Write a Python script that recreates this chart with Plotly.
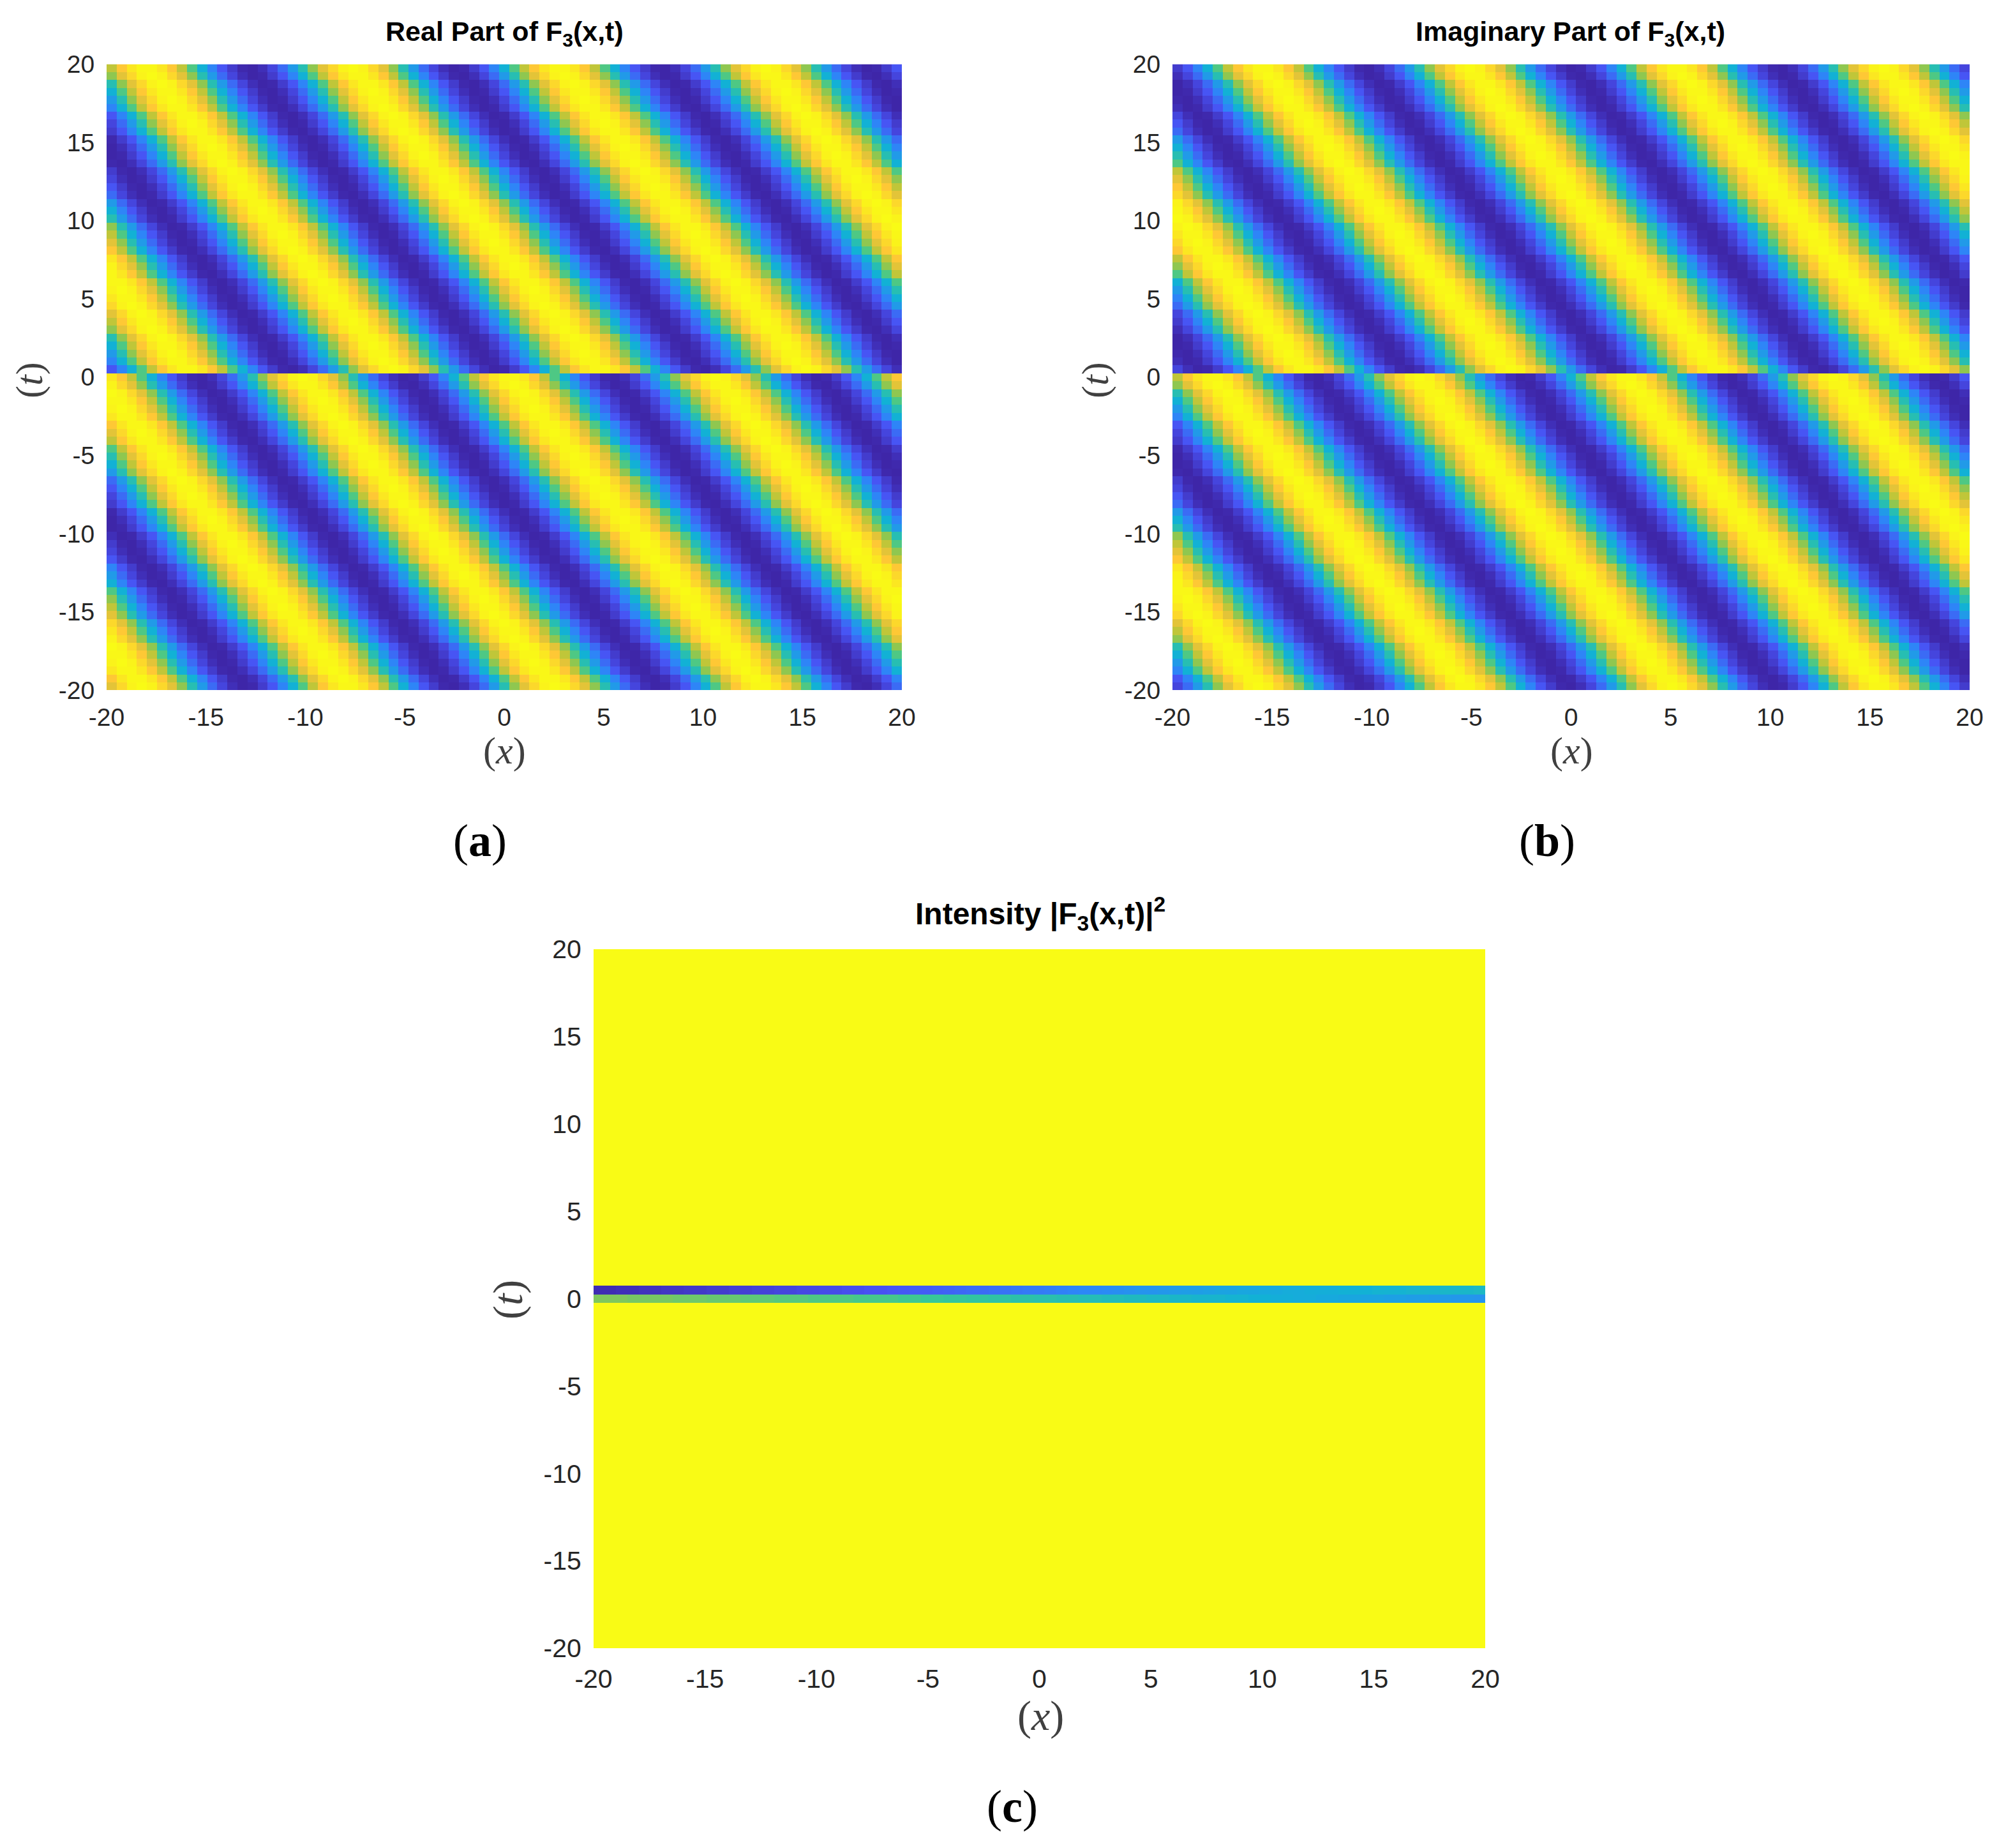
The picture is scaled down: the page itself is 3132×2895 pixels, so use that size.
import numpy as np
import plotly.graph_objects as go

W, H = 3132, 2895
PAGE = 8  # the browser's default body margin shifts everything by this many pixels

# parula colour stops
parula = ["#3E26A8", "#4852F4", "#2D87F7", "#12B1D6", "#37C897", "#ABC739", "#FEC338", "#F9FB15"]

grid_edges = np.linspace(-20, 20, 80)
tick_vals = [-20, -15, -10, -5, 0, 5, 10, 15, 20]
tick_text = ["-20", "-15", "-10", "-5", "0", "5", "10", "15", "20"]

# NOTE: the stripe cells of panels (a) and (b) were not read one by one. Each cell is looked up
# from the two estimated tables below: one stripe-period profile and one ridge position per row.

# colour level across one stripe period, read in half-cell steps from a bright ridge
stripe_profile = [1.00, .99, .98, .95, .91, .87, .81, .75, .68, .60, .51, .43, .35, .28, .21,
                  .15, .10, .07, .03, .01, .00, .00, .01, .03, .07, .10, .15, .21, .28, .35,
                  .43, .51, .60, .68, .75, .81, .87, .91, .95, .98, .99]

# ridge position (half-cells from the left column) for each row, top row first
real_ridge = [7, 8, 10, 11, 12, 13, 15, 16, 17, 19, 20, 21, 22, 24, 25, 26, 27, 29, 30, 31,
              33, 34, 35, 36, 38, 39, 40, 42, 43, 44, 45, 47, 48, 49, 51, 52, 53, 54, 56,
              -3, -2, 0, 1, 2, 3, 5, 6, 7, 9, 10, 11, 12, 14, 15, 16, 17, 19, 20, 21, 23,
              24, 25, 26, 28, 29, 30, 32, 33, 34, 35, 37, 38, 39, 41, 42, 43, 44, 46, 47]
imag_ridge = [17, 18, 20, 21, 22, 23, 25, 26, 27, 29, 30, 31, 32, 34, 35, 36, 37, 39, 40, 41,
              43, 44, 45, 46, 48, 49, 50, 52, 53, 54, 55, 57, 58, 59, 61, 62, 63, 64, 66,
              7, 8, 10, 11, 12, 13, 15, 16, 17, 19, 20, 21, 22, 24, 25, 26, 27, 29, 30, 31, 33,
              34, 35, 36, 38, 39, 40, 42, 43, 44, 45, 47, 48, 49, 51, 52, 53, 54, 56, 57]

# the only two rows of the intensity panel that are not at full level
intensity_band_upper = [.02, .02, .03, .03, .04, .04, .05, .05, .06, .06, .07, .07, .08, .08, .09, .09,
                        .10, .10, .11, .11, .12, .12, .13, .13, .14, .14, .15, .16, .17, .17, .18, .19,
                        .20, .21, .21, .22, .23, .24, .25, .25, .26, .27, .28, .29, .29, .30, .31, .32,
                        .33, .33, .34, .35, .36, .36, .37, .38, .38, .39, .39, .40, .40, .41, .41, .42,
                        .42, .42, .43, .43, .43, .44, .44, .44, .45, .45, .45, .46, .46, .46, .47]
intensity_band_lower = [.66, .66, .66, .65, .65, .65, .65, .64, .64, .64, .63, .63, .63, .62, .62, .62,
                        .61, .61, .61, .60, .60, .60, .60, .59, .59, .59, .59, .58, .58, .57, .57, .56,
                        .56, .55, .55, .54, .54, .53, .53, .52, .52, .51, .51, .50, .50, .49, .49, .48,
                        .48, .47, .47, .46, .46, .45, .45, .45, .44, .44, .43, .43, .42, .42, .41, .41,
                        .40, .40, .39, .39, .38, .38, .37, .37, .36, .36, .35, .35, .34, .34, .33]
band_row_upper, band_row_lower = 38, 39


def stripes(ridge):
    n = len(stripe_profile)
    rows = [[stripe_profile[(2 * c - r) % n] for c in range(len(ridge))] for r in ridge]
    return rows[::-1]


intensity = [[1.0] * 79 for _ in range(79)]
intensity[band_row_upper] = intensity_band_upper
intensity[band_row_lower] = intensity_band_lower
intensity = intensity[::-1]

TICK = "#262626"
panels = [
    dict(z=stripes(real_ridge), box=(167, 1413, 100.5, 1081), tick=39, xlen=8, ylen=10, xa="x", ya="y"),
    dict(z=stripes(imag_ridge), box=(1837, 3086, 100.5, 1081), tick=39, xlen=8, ylen=10, xa="x2", ya="y2"),
    dict(z=intensity, box=(930, 2327, 1487, 2582), tick=41, xlen=12, ylen=10, xa="x3", ya="y3"),
]

fig = go.Figure()
layout = {}
for p in panels:
    fig.add_trace(go.Heatmap(z=p["z"], x=grid_edges, y=grid_edges, zmin=0, zmax=1,
                             colorscale=parula, showscale=False, xaxis=p["xa"], yaxis=p["ya"]))
    x0, x1, y0, y1 = p["box"]
    suffix = p["xa"][1:]
    common = dict(range=[-20, 20], tickmode="array", tickvals=tick_vals, ticktext=tick_text,
                  showgrid=False, zeroline=False, showline=False, ticks="outside",
                  tickcolor="rgba(0,0,0,0)", automargin=False,
                  tickfont=dict(family="Liberation Sans", size=p["tick"], color=TICK))
    layout["xaxis" + suffix] = dict(domain=[(x0 - PAGE) / W, (x1 - PAGE) / W], anchor=p["ya"],
                                    ticklen=p["xlen"], **common)
    layout["yaxis" + suffix] = dict(domain=[1 - (y1 - PAGE) / H, 1 - (y0 - PAGE) / H], anchor=p["xa"],
                                    ticklen=p["ylen"], **common)


def note(text, px, py, size, family, color="#000000", angle=0):
    return dict(text=text, x=(px - PAGE) / W, y=1 - (py - PAGE) / H, xref="paper", yref="paper",
                showarrow=False, xanchor="center", yanchor="middle", textangle=angle,
                font=dict(family=family, size=size, color=color))


SANS, SERIF = "Liberation Sans", "Liberation Serif"
MATH = "#404040"
annotations = [
    note("<b>Real Part of F<sub>3</sub>(x,t)</b>", 790, 52, 43, SANS),
    note("<b>Imaginary Part of F<sub>3</sub>(x,t)</b>", 2460, 52, 43, SANS),
    note("<b>Intensity |F<sub>3</sub>(x,t)|<sup>2</sup></b>", 1630, 1432, 48, SANS),
    note("(<i>x</i>)", 790, 1176, 60, SERIF, MATH),
    note("(<i>x</i>)", 2462, 1176, 60, SERIF, MATH),
    note("(<i>x</i>)", 1630, 2688, 66, SERIF, MATH),
    note("(<i>t</i>)", 46, 596, 60, SERIF, MATH, -90),
    note("(<i>t</i>)", 1716, 596, 60, SERIF, MATH, -90),
    note("(<i>t</i>)", 796, 2036, 66, SERIF, MATH, -90),
    note("(<b>a</b>)", 752, 1317, 72, SERIF),
    note("(<b>b</b>)", 2424, 1317, 72, SERIF),
    note("(<b>c</b>)", 1586, 2830, 72, SERIF),
]

fig.update_layout(width=W, height=H, margin=dict(l=0, r=0, t=0, b=0, autoexpand=False),
                  paper_bgcolor="white", plot_bgcolor="white", annotations=annotations, **layout)
fig.write_html("out.html")
